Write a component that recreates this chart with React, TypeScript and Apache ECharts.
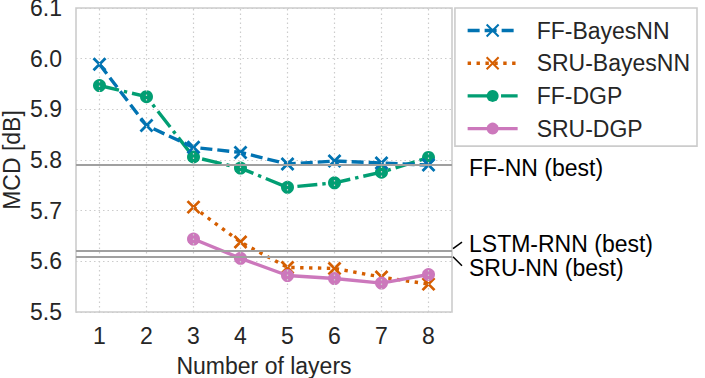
import React, { useEffect, useRef } from "react";
import * as echarts from "echarts";

const categories = ["1", "2", "3", "4", "5", "6", "7", "8"];
const seriesNames = ["FF-BayesNN", "SRU-BayesNN", "FF-DGP", "SRU-DGP"];
const ffBayesNN = [5.989, 5.868, 5.825, 5.815, 5.792, 5.798, 5.794, 5.79];
const sruBayesNN = [null, null, 5.707, 5.638, 5.588, 5.586, 5.569, 5.555];
const ffDGP = [5.947, 5.925, 5.806, 5.784, 5.746, 5.755, 5.776, 5.805];
const sruDGP = [null, null, 5.644, 5.606, 5.572, 5.566, 5.557, 5.574];
const baselineNames = ["FF-NN (best)", "LSTM-RNN (best)", "SRU-NN (best)"];
const baselineValues = [5.786, 5.623, 5.607];
const yMin = 5.5;
const yMax = 6.1;
const yStep = 0.1;

const FONT = "'Liberation Sans', Arial, Helvetica, sans-serif";
const FS = 23;
const TXT = "#262626";
const COLORS = ["#0173B2", "#D55E00", "#029E73", "#CC78BC"];
const XMARK = "path://M0,0L10,10M10,0L0,10";

export default function App() {
  const ref = useRef<HTMLDivElement>(null);
  useEffect(() => {
    if (!ref.current) return;
    const chart = echarts.init(ref.current, undefined, { renderer: "svg" });
    const xSeries = (name: string, data: any[], color: string, dash: any, z: number) => ({
      name,
      type: "line",
      data,
      z,
      symbol: XMARK,
      symbolSize: 12,
      showSymbol: true,
      lineStyle: { color, width: 3.4, type: dash },
      itemStyle: { color: "none", borderColor: color, borderWidth: 2.8 },
    });
    const oSeries = (name: string, data: any[], color: string, dash: any, z: number) => ({
      name,
      type: "line",
      data,
      z,
      symbol: "circle",
      symbolSize: 13,
      showSymbol: true,
      lineStyle: { color, width: 3.4, type: dash },
      itemStyle: { color, borderWidth: 0 },
    });
    chart.setOption({
      animation: false,
      backgroundColor: "#ffffff",
      textStyle: { fontFamily: FONT },
      grid: {
        left: 76,
        top: 8,
        right: 253,
        bottom: 66,
        outerBoundsMode: "none",
        containLabel: false,
        show: true,
        borderColor: "#cccccc",
        borderWidth: 1.6,
        backgroundColor: "transparent",
      },
      legend: {
        data: seriesNames,
        orient: "vertical",
        right: 8,
        top: 8,
        itemWidth: 50,
        itemHeight: 15,
        itemGap: 9.7,
        padding: [11, 7, 6, 11],
        borderColor: "#cccccc",
        borderWidth: 1.6,
        backgroundColor: "#ffffff",
        lineStyle: { width: 3.4 },
        textStyle: { fontSize: FS, color: TXT, fontFamily: FONT, padding: [0, 0, 0, 14] },
      },
      xAxis: {
        type: "category",
        data: categories,
        boundaryGap: true,
        name: "Number of layers",
        nameLocation: "middle",
        nameGap: 42,
        nameMoveOverlap: false,
        nameTextStyle: { fontSize: FS, color: TXT, fontFamily: FONT },
        axisLine: { show: false },
        axisTick: { show: false },
        splitLine: { show: false },
        axisLabel: { fontSize: FS, color: TXT, margin: 12, fontFamily: FONT },
      },
      yAxis: {
        type: "value",
        min: yMin,
        max: yMax,
        interval: yStep,
        name: "MCD [dB]",
        nameLocation: "middle",
        nameGap: 53,
        nameMoveOverlap: false,
        nameTextStyle: { fontSize: FS, color: TXT, fontFamily: FONT },
        axisLine: { show: false },
        axisTick: { show: false },
        axisLabel: {
          fontSize: FS,
          lineHeight: 16,
          color: TXT,
          margin: 14,
          fontFamily: FONT,
          formatter: (v: number) => v.toFixed(1),
        },
        splitLine: { show: true, lineStyle: { color: "#cccccc", width: 1.2, type: [1.5, 3] } },
      },
      series: [
        {
          name: "vgrid",
          type: "line",
          data: [],
          z: 0,
          silent: true,
          markLine: {
            silent: true,
            symbol: "none",
            label: { show: false },
            lineStyle: { color: "#cccccc", width: 1.2, type: [1.5, 3] },
            data: categories.map((c) => ({ xAxis: c })),
          },
        },
        {
          name: "baselines",
          type: "line",
          data: [],
          z: 1,
          silent: true,
          markLine: {
            silent: true,
            symbol: "none",
            label: { show: false },
            lineStyle: { color: "#a0a0a0", width: 2, type: "solid" },
            data: baselineValues.map((v) => ({ yAxis: v })),
          },
        },
        xSeries(seriesNames[0], ffBayesNN, COLORS[0], [12, 5], 4),
        xSeries(seriesNames[1], sruBayesNN, COLORS[1], [3.4, 5.5], 3),
        oSeries(seriesNames[2], ffDGP, COLORS[2], [20, 5, 3.4, 5], 3),
        oSeries(seriesNames[3], sruDGP, COLORS[3], "solid", 4),
      ],
    });

    const px = (c: string) => chart.convertToPixel({ xAxisIndex: 0 }, c) as number;
    const py = (v: number) => chart.convertToPixel({ yAxisIndex: 0 }, v) as number;
    const band = px(categories[categories.length - 1]) - px(categories[categories.length - 2]);
    const xEnd = px(categories[categories.length - 1]) + band / 2;
    const yFF = py(baselineValues[0]);
    const yL = py(baselineValues[1]);
    const yS = py(baselineValues[2]);
    const textStyle = (text: string) => ({
      text,
      fontSize: FS,
      lineHeight: 21,
      fontFamily: FONT,
      fill: "#000000",
      align: "left",
      verticalAlign: "middle",
    });
    chart.setOption({
      graphic: [
        { type: "text", x: xEnd + 17, y: yFF + 1, style: textStyle(baselineNames[0]) },
        { type: "text", x: xEnd + 17, y: yL - 6, style: textStyle(baselineNames[1]) },
        { type: "text", x: xEnd + 17, y: yS + 10, style: textStyle(baselineNames[2]) },
        {
          type: "line",
          shape: { x1: xEnd + 1, y1: yL - 1, x2: xEnd + 10, y2: yL - 7.5 },
          style: { stroke: "#000000", lineWidth: 1.5 },
        },
        {
          type: "line",
          shape: { x1: xEnd + 1, y1: yS - 1, x2: xEnd + 10, y2: yS + 8 },
          style: { stroke: "#000000", lineWidth: 1.5 },
        },
      ],
    });
    return () => chart.dispose();
  }, []);
  return (
    <div
      ref={ref}
      style={{ position: "fixed", left: 0, top: 0, width: 705, height: 378, background: "#fff" }}
    />
  );
}
